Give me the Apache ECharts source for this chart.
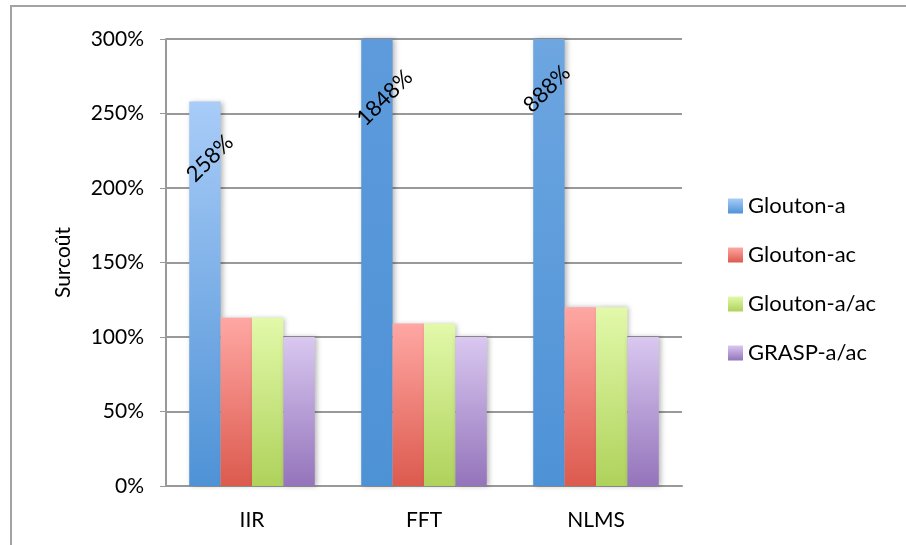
<!DOCTYPE html>
<html>
<head>
<meta charset="utf-8">
<script src="https://cdn.jsdelivr.net/npm/echarts@6/dist/echarts.min.js"></script>
<style>
  html, body { margin: 0; padding: 0; background: #ffffff; }
  #chart { width: 906px; height: 545px; }
</style>
</head>
<body>
<div id="chart"></div>
<script>
// ---- Data ----
const categories = ['IIR', 'FFT', 'NLMS'];
const seriesNames = ['Glouton-a', 'Glouton-ac', 'Glouton-a/ac', 'GRASP-a/ac'];
const gloutonA   = [258, 1848, 888];
const gloutonAc  = [113, 109, 120];
const gloutonAAc = [113, 109, 120];
const graspAAc   = [100, 100, 100];
const yTicks = [0, 50, 100, 150, 200, 250, 300];

// ---- Styling ----
const FONT = 'Lato, "Open Sans", sans-serif';
const yMin = yTicks[0];
const yMax = yTicks[yTicks.length - 1];
const yStep = yTicks[1] - yTicks[0];

// light (top) / dark (bottom) colours of each series' gradient
const palette = [
  ['#a9ccf8', '#4e92d6'],
  ['#ffa7a3', '#dc5a4e'],
  ['#e2f9aa', '#afd25b'],
  ['#d9c8f1', '#9474ba']
];

// label anchor inside the clipped Glouton-a bars: [x within bar, px below bar top]
const valueLabelAnchor = [['66%', 57], ['75%', 59], ['44%', 50]];

function hex2rgb(h) {
  return [1, 3, 5].map(i => parseInt(h.substr(i, 2), 16));
}
function mix(a, b, t) {
  const A = hex2rgb(a), B = hex2rgb(b);
  return 'rgb(' + A.map((v, i) => Math.round(v + (B[i] - v) * t)).join(',') + ')';
}
// The gradient spans the full value; a bar cut at the axis maximum only
// shows the lower part of it.
function barGradient(idx, value) {
  const [light, dark] = palette[idx];
  const frac = Math.min(1, (yMax - yMin) / value);
  return new echarts.graphic.LinearGradient(0, 0, 0, 1, [
    { offset: 0, color: mix(dark, light, frac) },
    { offset: 1, color: dark }
  ]);
}

const allValues = [gloutonA, gloutonAc, gloutonAAc, graspAAc];

const series = allValues.map((vals, si) => ({
  name: seriesNames[si],
  type: 'bar',
  barGap: '0%',
  barCategoryGap: '27%',
  clip: true,
  data: vals.map((v, ci) => {
    const item = {
      value: v,
      itemStyle: {
        color: barGradient(si, v),
        shadowColor: 'rgba(0,0,0,0.28)',
        shadowBlur: 5,
        shadowOffsetX: 2,
        shadowOffsetY: 0
      }
    };
    if (si === 0) {
      item.label = {
        show: true,
        position: valueLabelAnchor[ci],
        rotate: 45,
        align: 'center',
        verticalAlign: 'middle',
        formatter: v + '%',
        color: '#000',
        fontFamily: FONT,
        fontSize: 22
      };
    }
    return item;
  })
}));

const legendIcon = (i) => ({
  name: seriesNames[i],
  itemStyle: {
    color: new echarts.graphic.LinearGradient(0, 0, 0, 1, [
      { offset: 0, color: palette[i][0] },
      { offset: 1, color: palette[i][1] }
    ])
  }
});

const option = {
  animation: false,
  backgroundColor: '#ffffff',
  graphic: [{
    type: 'rect',
    shape: { x: 11, y: 6, width: 930, height: 570 },
    style: { fill: 'none', stroke: '#a3a3a3', lineWidth: 2 },
    silent: true,
    z: -1
  }],
  grid: { left: 166, right: 224, top: 39, bottom: 59, containLabel: false },
  legend: {
    orient: 'vertical',
    left: 723,
    top: 190,
    itemWidth: 15,
    itemHeight: 15,
    itemGap: 27,
    icon: 'rect',
    textStyle: { fontFamily: FONT, fontSize: 22, color: '#000', padding: [0, 0, 0, 0] },
    data: seriesNames.map((n, i) => legendIcon(i))
  },
  xAxis: {
    type: 'category',
    data: categories,
    axisLine: { show: true, lineStyle: { color: '#999', width: 2 } },
    axisTick: { show: false },
    axisLabel: { color: '#000', fontFamily: FONT, fontSize: 21, margin: 24 },
    splitLine: { show: false }
  },
  yAxis: {
    type: 'value',
    min: yMin,
    max: yMax,
    interval: yStep,
    name: 'Surcoût',
    nameLocation: 'middle',
    nameGap: 92,
    nameTextStyle: { color: '#000', fontFamily: FONT, fontSize: 21 },
    axisLine: { show: true, lineStyle: { color: '#999', width: 2 } },
    axisTick: { show: true, length: 6, lineStyle: { color: '#999', width: 1 } },
    axisLabel: {
      color: '#000', fontFamily: FONT, fontSize: 21, margin: 22,
      formatter: '{value}%'
    },
    splitLine: { show: true, lineStyle: { color: '#999', width: 2 } }
  },
  series: series
};

const chart = echarts.init(document.getElementById('chart'), null, { renderer: 'canvas' });
chart.setOption(option);
</script>
</body>
</html>
